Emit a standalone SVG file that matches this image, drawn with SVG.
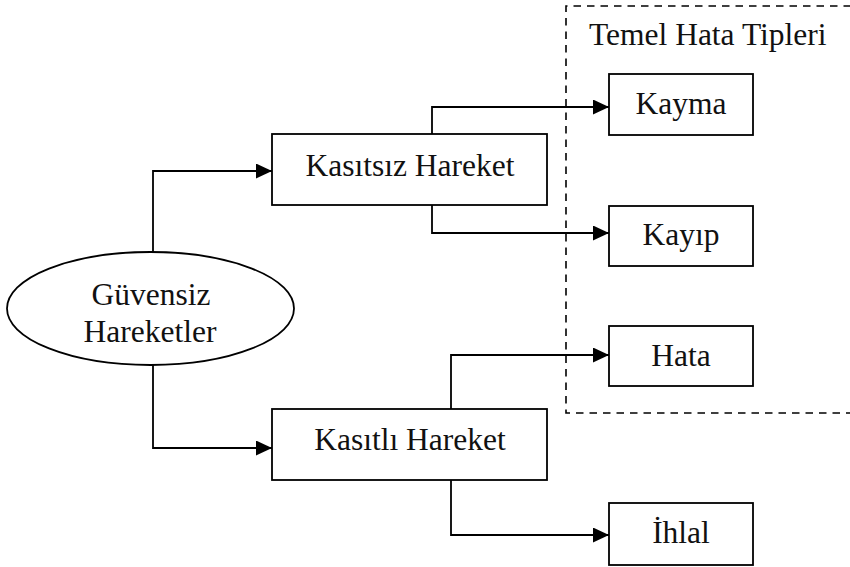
<svg xmlns="http://www.w3.org/2000/svg" width="850" height="567" viewBox="0 0 850 567">
  <style>
    .box { fill: #ffffff; stroke: #000000; stroke-width: 1.8; }
    .lbl { font-family: "Liberation Serif", "Times New Roman", "DejaVu Serif", serif; font-size: 31.5px; fill: #111111; text-anchor: middle; }
    .edge { fill: none; stroke: #000000; stroke-width: 1.8; marker-end: url(#arrow); }
    .group-frame { fill: none; stroke: #000000; stroke-width: 1.6; stroke-dasharray: 7.5 6; }
  </style>
  <defs>
    <marker id="arrow" markerUnits="userSpaceOnUse" markerWidth="17" markerHeight="16" refX="16" refY="7.5" orient="auto">
      <path d="M0,0 L16,7.5 L0,15 Z" fill="#000000"/>
    </marker>
  </defs>
  <rect width="850" height="567" fill="#ffffff"/>

  <!-- dashed frame for the basic error types -->
  <g id="temel-hata-tipleri">
    <path class="group-frame" d="M851,6 H566 V413 H851"/>
    <text x="589" y="45" class="lbl" style="text-anchor:start">Temel Hata Tipleri</text>
  </g>

  <!-- connectors -->
  <g id="connectors">
    <path class="edge" d="M153,252 V171 H272"/>
    <path class="edge" d="M153,365 V448 H272"/>
    <path class="edge" d="M432,134 V107 H609"/>
    <path class="edge" d="M432,205 V233 H609"/>
    <path class="edge" d="M451,409 V355 H609"/>
    <path class="edge" d="M451,480 V535 H609"/>
  </g>

  <g id="guvensiz-hareketler">
    <ellipse class="box" cx="150.5" cy="308.5" rx="143.5" ry="56.5"/>
    <text x="151" y="305" class="lbl">Güvensiz</text>
    <text x="150" y="342" class="lbl">Hareketler</text>
  </g>

  <g id="kasitsiz-hareket">
    <rect class="box" x="272" y="134" width="275" height="71"/>
    <text x="410" y="176" class="lbl">Kasıtsız Hareket</text>
  </g>

  <g id="kasitli-hareket">
    <rect class="box" x="272" y="409" width="275" height="71"/>
    <text x="410" y="450" class="lbl">Kasıtlı Hareket</text>
  </g>

  <g id="kayma">
    <rect class="box" x="609" y="74" width="144" height="61"/>
    <text x="681" y="114" class="lbl">Kayma</text>
  </g>

  <g id="kayip">
    <rect class="box" x="609" y="206" width="144" height="60"/>
    <text x="681" y="245" class="lbl">Kayıp</text>
  </g>

  <g id="hata">
    <rect class="box" x="609" y="326" width="144" height="60"/>
    <text x="681" y="366" class="lbl">Hata</text>
  </g>

  <g id="ihlal">
    <rect class="box" x="609" y="503" width="144" height="62"/>
    <text x="681" y="543" class="lbl">İhlal</text>
  </g>
</svg>
